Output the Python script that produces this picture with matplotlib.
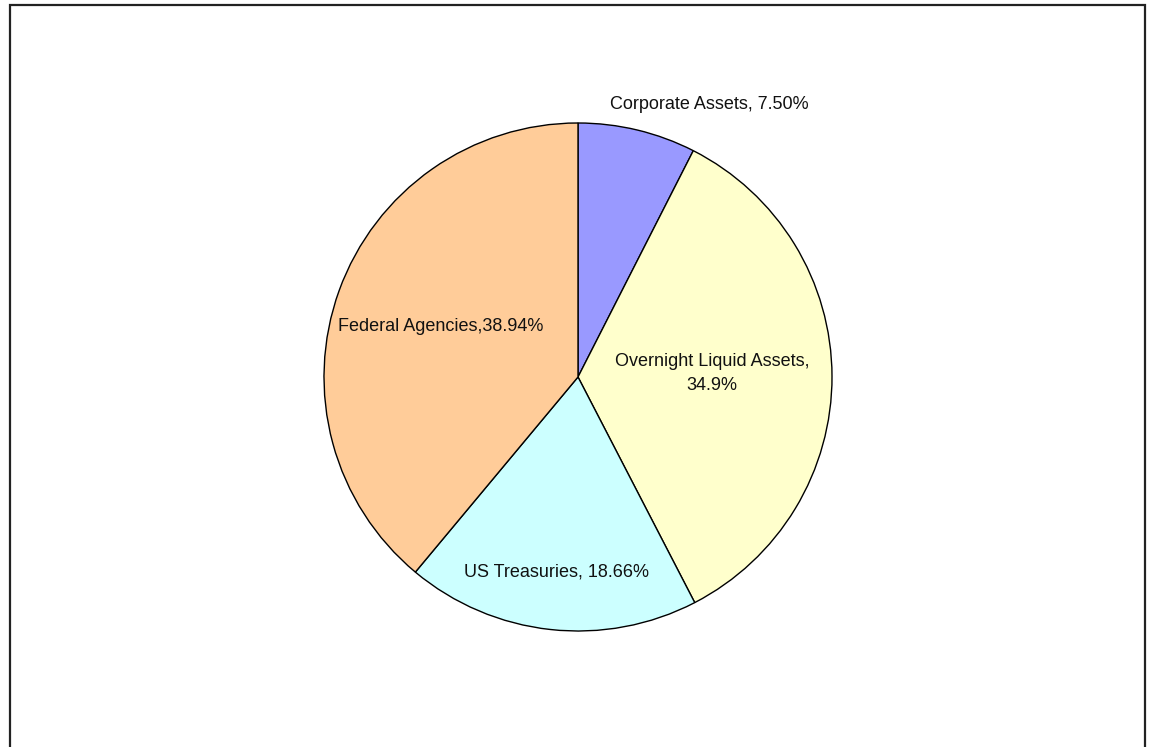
import matplotlib.pyplot as plt
from matplotlib.patches import Rectangle

# Portfolio composition (percent)
categories = ['Corporate Assets', 'Overnight Liquid Assets', 'US Treasuries', 'Federal Agencies']
shares = [7.50, 34.9, 18.66, 38.94]
label_texts = ['Corporate Assets, 7.50%', 'Overnight Liquid Assets,\n34.9%',
               'US Treasuries, 18.66%', 'Federal Agencies,38.94%']
colors = ['#9999FF', '#FFFFCC', '#CCFFFF', '#FFCC99']

# label placement in pie data units (radius = 1)
label_pos = [(0.516, 1.071), (0.528, 0.015), (-0.083, -0.768), (-0.539, 0.197)]

plt.rcParams['font.family'] = ['Liberation Sans', 'DejaVu Sans']

fig = plt.figure(figsize=(11.51, 7.47), dpi=100)
ax = fig.add_axes([324 / 1151, 116 / 747, 508 / 1151, 508 / 747])

ax.pie(shares, colors=colors, startangle=90, counterclock=False, radius=1,
       wedgeprops={'edgecolor': 'black', 'linewidth': 1.0})
ax.set_xlim(-1, 1)
ax.set_ylim(-1, 1)
ax.set_aspect('equal')
ax.axis('off')

for txt, (x, y) in zip(label_texts, label_pos):
    ax.text(x, y, txt, ha='center', va='center', fontsize=13, color='#111111',
            multialignment='center', linespacing=1.55, clip_on=False)

# chart frame (bottom edge falls outside the picture)
fig.patches.append(Rectangle((10 / 1151, -0.02), 1135 / 1151, 1.02 - 5 / 747,
                             transform=fig.transFigure, fill=False,
                             edgecolor='#222222', linewidth=1.6))

fig.savefig('out.png', dpi=100)
